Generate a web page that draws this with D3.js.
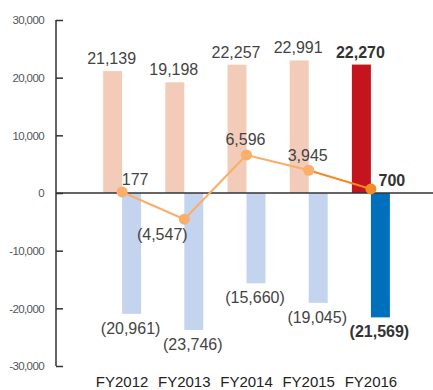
<!DOCTYPE html>
<html>
<head>
<meta charset="utf-8">
<script src="https://cdn.jsdelivr.net/npm/d3@7"></script>
<style>
  body { margin: 0; background: #fff; }
  svg { font-family: "Liberation Sans", Arial, sans-serif; }
</style>
</head>
<body>
<script>
var years = ["FY2012", "FY2013", "FY2014", "FY2015", "FY2016"];
var positives = [21139, 19198, 22257, 22991, 22270];
var negatives = [-20961, -23746, -15660, -19045, -21569];
var net = [177, -4547, 6596, 3945, 700];
var yTicks = [30000, 20000, 10000, 0, -10000, -20000, -30000];

var width = 433, height = 390;
var svg = d3.select("body").append("svg")
  .attr("width", width).attr("height", height);

var x = d3.scaleBand().domain(years).range([91, 402]).paddingInner(0).paddingOuter(0);
var y = d3.scaleLinear().domain([-30000, 30000]).range([366, 20]);

var fmt = d3.format(",");
function fmtH(v) { return fmt(v).replace("\u2212", "-"); }
var barW = 19;
function cx(d) { return x(d) + x.bandwidth() / 2; }
var last = years.length - 1;

// y axis
var yAxis = d3.axisLeft(y).tickValues(yTicks).tickSize(-7).tickPadding(12)
  .tickFormat(fmtH);
var ga = svg.append("g").attr("transform", "translate(56,0)").call(yAxis);
ga.select(".domain").attr("stroke", "#333").attr("stroke-width", 1.5).attr("d", "M0," + y(30000) + "V" + y(-30000));
ga.selectAll(".tick line").attr("stroke", "#333").attr("stroke-width", 1.5);
ga.selectAll(".tick text").attr("fill", "#555").style("font-size", "11.5px").style("letter-spacing", "-0.6px");

// bars
svg.selectAll(".pos").data(years).enter().append("rect")
  .attr("x", function (d) { return cx(d) - barW; })
  .attr("width", barW)
  .attr("y", function (d, i) { return y(positives[i]); })
  .attr("height", function (d, i) { return y(0) - y(positives[i]); })
  .attr("fill", function (d, i) { return i === last ? "#c4141e" : "#f2cbb9"; });

svg.selectAll(".neg").data(years).enter().append("rect")
  .attr("x", function (d) { return cx(d); })
  .attr("width", barW)
  .attr("y", y(0))
  .attr("height", function (d, i) { return y(negatives[i]) - y(0); })
  .attr("fill", function (d, i) { return i === last ? "#0070bd" : "#c5d4ee"; });

// zero line
svg.append("line").attr("x1", 56).attr("x2", width).attr("y1", y(0)).attr("y2", y(0))
  .attr("stroke", "#333").attr("stroke-width", 1.5);

// bar labels
svg.selectAll(".plab").data(years).enter().append("text")
  .attr("x", function (d) { return cx(d) - barW / 2 - 1; })
  .attr("y", function (d, i) { return y(positives[i]) - 7; })
  .attr("text-anchor", "middle")
  .style("font-size", "16px")
  .style("font-weight", function (d, i) { return i === last ? "bold" : "normal"; })
  .attr("fill", function (d, i) { return i === last ? "#333" : "#444"; })
  .text(function (d, i) { return fmt(positives[i]); });

svg.selectAll(".nlab").data(years).enter().append("text")
  .attr("x", function (d) { return cx(d) + barW / 2 - 1; })
  .attr("y", function (d, i) { return y(negatives[i]) + 20; })
  .attr("text-anchor", "middle")
  .style("font-size", "16px")
  .style("font-weight", function (d, i) { return i === last ? "bold" : "normal"; })
  .attr("fill", function (d, i) { return i === last ? "#333" : "#444"; })
  .text(function (d, i) { return "(" + fmt(-negatives[i]) + ")"; });

// net line
var pts = years.map(function (d, i) { return [cx(d), y(net[i])]; });
for (var i = 0; i < pts.length - 1; i++) {
  svg.append("line")
    .attr("x1", pts[i][0]).attr("y1", pts[i][1])
    .attr("x2", pts[i + 1][0]).attr("y2", pts[i + 1][1])
    .attr("stroke", i === pts.length - 2 ? "#f38a24" : "#f9ae6a")
    .attr("stroke-width", 2);
}
svg.selectAll(".dot").data(years).enter().append("circle")
  .attr("cx", function (d) { return cx(d); })
  .attr("cy", function (d, i) { return y(net[i]); })
  .attr("r", 5.5)
  .attr("fill", function (d, i) { return i === last ? "#f38a24" : "#f9ae6a"; });

var netOff = [[13, -7], [-22, 21], [-1, -10], [-1, -9], [21, -3]];
svg.selectAll(".llab").data(years).enter().append("text")
  .attr("x", function (d, i) { return cx(d) + netOff[i][0]; })
  .attr("y", function (d, i) { return y(net[i]) + netOff[i][1]; })
  .attr("text-anchor", "middle")
  .style("font-size", "16px")
  .style("font-weight", function (d, i) { return i === last ? "bold" : "normal"; })
  .attr("fill", function (d, i) { return i === last ? "#333" : "#444"; })
  .text(function (d, i) { return net[i] < 0 ? "(" + fmt(-net[i]) + ")" : fmt(net[i]); });

// x labels
svg.selectAll(".xlab").data(years).enter().append("text")
  .attr("x", function (d) { return cx(d); })
  .attr("y", 387)
  .attr("text-anchor", "middle")
  .style("font-size", "15px")
  .attr("fill", "#222")
  .text(function (d) { return d; });
</script>
</body>
</html>
